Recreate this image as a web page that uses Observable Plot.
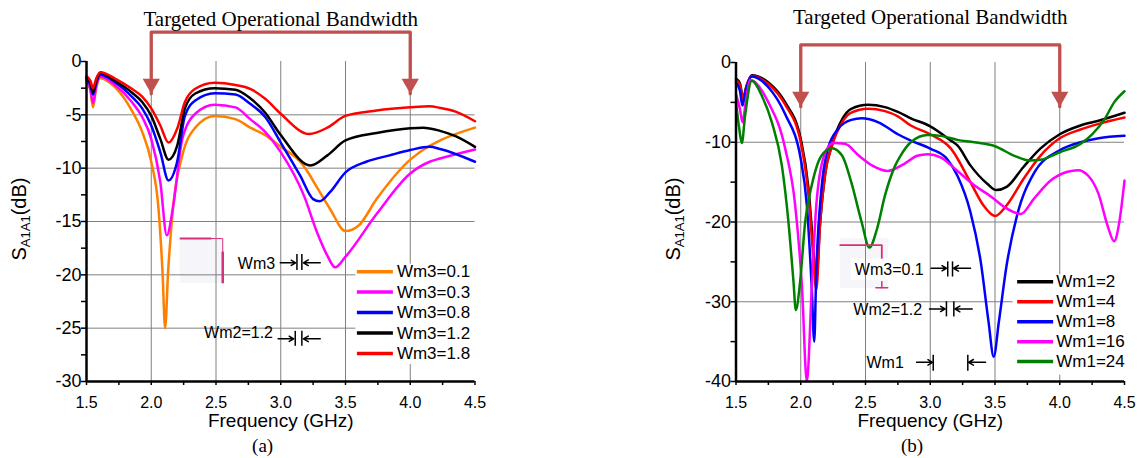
<!DOCTYPE html>
<html><head><meta charset="utf-8">
<script src="https://cdn.jsdelivr.net/npm/d3@7"></script>
<script src="https://cdn.jsdelivr.net/npm/@observablehq/plot@0.6"></script>
<style>
body{margin:0;background:#fff;}
#wrap{display:flex;width:1141px;height:458px;overflow:hidden;}
</style></head><body><div id="wrap"></div>
<script>
// ---------- DATA: panel (a), S_A1A1 (dB) vs frequency (GHz) for Wm3 ----------
const namesA = ["Wm3=0.1", "Wm3=0.3", "Wm3=0.8", "Wm3=1.2", "Wm3=1.8"];
const colorsA = ["#ff8000", "#ff00ff", "#0000ff", "#000000", "#ff0000"];
const wm3_01 = [[1.5,-1.9],[1.53,-2.7],[1.55,-4.3],[1.575,-2.5],[1.606,-1.56],[1.72,-2.4],[1.85,-4.6],[1.93,-6.6],[2.0,-9.4],[2.056,-13.8],[2.087,-19.75],[2.107,-25.0],[2.13,-19.75],[2.17,-13.5],[2.24,-8.8],[2.34,-6.2],[2.49,-5.1],[2.65,-5.4],[2.764,-6.2],[2.88,-6.9],[3.0,-8.0],[3.15,-9.4],[3.2,-10.2],[3.28,-11.8],[3.38,-13.8],[3.5,-15.9],[3.6,-15.4],[3.74,-12.9],[4.0,-9.2],[4.15,-7.9],[4.23,-7.4],[4.5,-6.2]];
const wm3_03 = [[1.5,-1.8],[1.53,-2.6],[1.55,-3.9],[1.575,-2.3],[1.606,-1.4],[1.72,-2.2],[1.85,-3.8],[1.93,-5.2],[2.0,-7.25],[2.07,-11.3],[2.12,-16.3],[2.17,-13.5],[2.24,-7.25],[2.34,-4.9],[2.49,-4.06],[2.65,-4.3],[2.764,-5.4],[2.88,-6.6],[3.0,-8.5],[3.18,-12.6],[3.28,-16.0],[3.36,-18.2],[3.42,-19.3],[3.5,-18.3],[3.74,-14.3],[4.0,-10.5],[4.15,-9.4],[4.23,-9.1],[4.5,-8.25]];
const wm3_08 = [[1.5,-1.6],[1.53,-2.2],[1.55,-3.1],[1.575,-2.0],[1.606,-1.25],[1.72,-1.94],[1.85,-3.3],[1.93,-4.4],[2.0,-6.0],[2.07,-8.5],[2.133,-11.15],[2.2,-9.4],[2.26,-5.1],[2.34,-3.65],[2.49,-2.97],[2.65,-3.1],[2.764,-3.97],[2.88,-5.2],[3.0,-7.6],[3.15,-10.7],[3.25,-12.9],[3.3,-13.1],[3.38,-12.25],[3.5,-10.4],[3.66,-9.4],[3.84,-8.8],[4.0,-8.3],[4.15,-8.0],[4.23,-8.2],[4.5,-9.4]];
const wm3_12 = [[1.5,-1.5],[1.53,-2.0],[1.55,-2.9],[1.575,-1.8],[1.606,-1.06],[1.72,-1.8],[1.85,-2.9],[1.93,-3.8],[2.0,-5.1],[2.07,-7.25],[2.133,-9.2],[2.2,-7.9],[2.26,-4.4],[2.34,-3.0],[2.49,-2.5],[2.65,-2.65],[2.764,-3.44],[2.88,-4.8],[3.0,-6.9],[3.23,-9.75],[3.36,-8.8],[3.5,-7.4],[3.74,-6.7],[4.0,-6.25],[4.1,-6.2],[4.23,-6.5],[4.35,-7.0],[4.5,-8.0]];
const wm3_18 = [[1.5,-1.4],[1.53,-1.8],[1.55,-2.5],[1.575,-1.6],[1.606,-1.0],[1.72,-1.6],[1.85,-2.56],[1.93,-3.3],[2.0,-4.4],[2.07,-6.0],[2.133,-7.6],[2.2,-6.3],[2.26,-3.8],[2.34,-2.56],[2.49,-2.0],[2.65,-2.2],[2.764,-2.56],[2.88,-3.5],[3.0,-4.9],[3.22,-6.8],[3.36,-6.2],[3.5,-5.1],[3.74,-4.6],[4.0,-4.3],[4.15,-4.2],[4.23,-4.35],[4.35,-4.7],[4.5,-5.6]];

// ---------- DATA: panel (b), S_A1A1 (dB) vs frequency (GHz) for Wm1 ----------
const namesB = ["Wm1=2", "Wm1=4", "Wm1=8", "Wm1=16", "Wm1=24"];
const colorsB = ["#000000", "#ff0000", "#0000ff", "#ff00ff", "#008000"];
const wm1_2 = [[1.5,-2.0],[1.53,-2.6],[1.555,-4.5],[1.58,-3.0],[1.622,-1.6],[1.75,-2.5],[1.88,-5.0],[2.0,-9.6],[2.06,-15.8],[2.1,-24.0],[2.118,-27.5],[2.15,-20.0],[2.19,-13.8],[2.24,-10.4],[2.32,-7.1],[2.39,-5.8],[2.52,-5.3],[2.65,-5.6],[2.75,-6.2],[2.85,-7.0],[3.0,-8.0],[3.16,-9.8],[3.21,-10.4],[3.31,-12.9],[3.44,-15.2],[3.51,-16.0],[3.59,-15.6],[3.72,-13.1],[3.85,-10.8],[4.0,-9.0],[4.16,-7.9],[4.3,-7.3],[4.5,-6.3]];
const wm1_4 = [[1.5,-2.2],[1.53,-2.8],[1.555,-4.6],[1.58,-3.1],[1.622,-1.7],[1.75,-2.7],[1.88,-5.3],[2.0,-10.0],[2.06,-16.7],[2.1,-25.0],[2.12,-28.5],[2.15,-20.0],[2.19,-13.8],[2.24,-10.5],[2.32,-7.5],[2.39,-6.3],[2.52,-5.8],[2.65,-6.1],[2.75,-6.75],[2.85,-7.9],[3.0,-9.0],[3.16,-10.8],[3.31,-15.0],[3.41,-17.9],[3.5,-19.25],[3.59,-17.9],[3.72,-14.6],[3.85,-11.7],[4.0,-9.5],[4.16,-8.4],[4.3,-7.7],[4.5,-6.9]];
const wm1_8 = [[1.5,-2.5],[1.53,-3.5],[1.55,-5.4],[1.575,-3.5],[1.622,-1.75],[1.75,-3.1],[1.88,-6.5],[2.0,-12.1],[2.047,-17.9],[2.085,-28.3],[2.104,-35.0],[2.12,-26.2],[2.16,-15.8],[2.21,-10.8],[2.29,-8.3],[2.39,-7.2],[2.47,-7.0],[2.6,-7.5],[2.75,-9.0],[2.85,-9.8],[3.0,-10.8],[3.13,-12.1],[3.21,-14.2],[3.31,-18.75],[3.39,-25.0],[3.45,-32.5],[3.49,-36.9],[3.53,-32.5],[3.59,-25.4],[3.67,-19.2],[3.8,-13.9],[4.0,-11.0],[4.16,-10.0],[4.3,-9.5],[4.5,-9.2]];
const wm1_16 = [[1.5,-4.0],[1.53,-5.8],[1.55,-7.5],[1.575,-5.0],[1.61,-2.2],[1.75,-5.0],[1.88,-10.8],[1.957,-17.9],[2.01,-28.3],[2.047,-40.0],[2.085,-28.3],[2.12,-17.9],[2.18,-11.7],[2.25,-10.1],[2.34,-10.2],[2.45,-11.7],[2.55,-12.9],[2.67,-13.6],[2.8,-12.7],[2.9,-11.7],[2.98,-11.5],[3.08,-11.9],[3.21,-13.6],[3.34,-15.4],[3.46,-16.7],[3.59,-18.3],[3.7,-19.0],[3.8,-17.1],[3.93,-14.8],[4.06,-13.7],[4.14,-13.5],[4.22,-14.2],[4.3,-16.5],[4.37,-20.5],[4.42,-22.4],[4.46,-20.0],[4.5,-14.8]];
const wm1_24 = [[1.5,-5.0],[1.525,-8.3],[1.545,-10.1],[1.57,-6.7],[1.622,-2.3],[1.7,-4.2],[1.777,-7.5],[1.854,-12.9],[1.905,-20.0],[1.944,-27.5],[1.962,-31.05],[1.995,-27.5],[2.034,-20.0],[2.085,-15.4],[2.16,-11.7],[2.24,-10.75],[2.32,-11.7],[2.39,-15.0],[2.47,-20.0],[2.53,-23.2],[2.59,-20.8],[2.65,-16.7],[2.73,-12.9],[2.77,-11.7],[2.85,-10.0],[2.98,-9.1],[3.08,-9.2],[3.21,-9.7],[3.34,-10.0],[3.5,-10.5],[3.65,-11.7],[3.77,-12.3],[3.85,-12.2],[4.0,-11.25],[4.16,-10.2],[4.25,-9.0],[4.35,-7.0],[4.42,-5.0],[4.5,-3.6]];

// ---------- TICKS ----------
const xMajor = [1.5, 2.0, 2.5, 3.0, 3.5, 4.0, 4.5];
const xMinor = [1.75, 2.25, 2.75, 3.25, 3.75, 4.25];
const xGrid = [2.0, 2.5, 3.0, 3.5, 4.0];
const yMajorA = [0, -5, -10, -15, -20, -25, -30];
const yMinorA = [-2.5, -7.5, -12.5, -17.5, -22.5, -27.5];
const yGridA = [-5, -10, -15, -20, -25];
const yMajorB = [0, -10, -20, -30, -40];
const yMinorB = [-5, -15, -25, -35];
const yGridB = [-10, -20, -30];

const titleText = "Targeted Operational Bandwidth";
const bandEdges = [2.0, 4.0];

// ---------- helpers ----------
const SANS = "Liberation Sans, Arial, sans-serif";
const SERIF = "Liberation Serif, Times New Roman, serif";
const BR = "#c0504d";
const PINK = "#d63078";

function toTable(series, names) {
  return series.flatMap((s, i) => s.map(([f, v]) => ({name: names[i], f, v})));
}

function commonMarks(o) {
  return [
    Plot.gridX(xGrid, {stroke: "#808080", strokeOpacity: 1, strokeWidth: 1}),
    Plot.gridY(o.yGrid, {stroke: "#808080", strokeOpacity: 1, strokeWidth: 1}),
    // legend background box
    Plot.rect([0], {x1: () => o.legBox[0], x2: () => 4.5, y1: () => o.legBox[1], y2: () => o.legBox[2], fill: "white"}),
    Plot.axisX(xMajor, {tickSize: 4, tickPadding: 11, tickFormat: d => d.toFixed(1), fontSize: 16, fontFamily: SANS, strokeWidth: 1.5, label: null}),
    Plot.axisX(xMinor, {tickSize: 4, tickFormat: () => "", strokeWidth: 1.5, label: null}),
    Plot.axisY(o.yMajor, {tickSize: 5, tickPadding: 0, tickFormat: d => String(d), fontSize: 18, fontFamily: SANS, strokeWidth: 1.5, label: null}),
    Plot.axisY(o.yMinor, {tickSize: 5, tickFormat: () => "", strokeWidth: 1.5, label: null}),
    Plot.line(o.table, {x: "f", y: "v", z: "name", stroke: "name", strokeWidth: 2.5, curve: "monotone-x"}),
    Plot.ruleX([1.5], {strokeWidth: 2.5, stroke: "black"}),
    Plot.ruleY([o.yMin], {strokeWidth: 2.5, stroke: "black"}),
    // bandwidth bracket
    Plot.line([[bandEdges[0], o.tip], [bandEdges[0], o.top], [bandEdges[1], o.top], [bandEdges[1], o.tip]],
      {x: d => d[0], y: d => d[1], stroke: BR, strokeWidth: 3.3, curve: "linear"}),
    Plot.dot(bandEdges, {x: d => d, y: () => o.tip, symbol: "triangle", rotate: 180, r: 6.4, fill: BR, stroke: null, dy: -10}),
    Plot.text([titleText], {x: () => 3, frameAnchor: "top", lineAnchor: "middle", dy: o.titleDy, fontFamily: SERIF, fontSize: 21, fill: "black"}),
    // x label and caption
    Plot.text(["Frequency (GHz)"], {x: () => 3, frameAnchor: "bottom", lineAnchor: "middle", dy: 39, fontFamily: SANS, fontSize: 19, fill: "black"}),
    Plot.text([o.caption], {x: () => 2.86, frameAnchor: "bottom", lineAnchor: "middle", dy: 64, fontFamily: SERIF, fontSize: 19, fill: "black"}),
    // legend
    Plot.link(o.names, {x1: () => o.legX1, x2: () => o.legX2, y1: (d, i) => o.legTop + i * o.legStep, y2: (d, i) => o.legTop + i * o.legStep, stroke: d => d, strokeWidth: 3.5}),
    Plot.text(o.names, {x: () => o.legTx, y: (d, i) => o.legTop + i * o.legStep, text: d => d, textAnchor: "start", fontFamily: SANS, fontSize: 17, fill: "black"})
  ];
}

function widthMarks(labels, arrows, bars) {
  return [
    Plot.text(labels, {x: d => d[0], y: d => d[1], text: d => d[2], textAnchor: "end", fontFamily: SANS, fontSize: 16, fill: "black"}),
    Plot.arrow(arrows, {x1: d => d[0], x2: d => d[1], y1: d => d[2], y2: d => d[2], stroke: "black", strokeWidth: 1.5, headLength: 8}),
    Plot.ruleX(bars, {x: d => d[0], y1: d => d[1], y2: d => d[2], stroke: "black", strokeWidth: 1.5})
  ];
}

function addYLabel(svg, x, y) {
  const t = d3.select(svg).append("text")
    .attr("transform", `translate(${x},${y}) rotate(-90)`)
    .attr("text-anchor", "middle")
    .attr("font-family", SANS).attr("font-size", 20).attr("fill", "black");
  t.append("tspan").text("S");
  t.append("tspan").attr("font-size", 13).attr("dy", 4).text("A1A1");
  t.append("tspan").attr("dy", -4).text("(dB)");
}

// ---------- panel (a) ----------
const chartA = Plot.plot({
  width: 570, height: 458,
  marginTop: 61, marginBottom: 77, marginLeft: 86, marginRight: 95.5,
  x: {domain: [1.5, 4.5]},
  y: {domain: [-30, 0]},
  color: {domain: namesA, range: colorsA},
  style: {fontFamily: SANS, background: "white", color: "black", overflow: "visible"},
  marks: [
    Plot.rect([0], {x1: () => 2.224, x2: () => 2.548, y1: () => -16.6, y2: () => -20.8, fill: "#f5f5fa"}),
    ...commonMarks({table: toTable([wm3_01, wm3_03, wm3_08, wm3_12, wm3_18], namesA), names: namesA,
      yGrid: yGridA, yMajor: yMajorA, yMinor: yMinorA, yMin: -30, tip: -3.03, top: 2.75, titleDy: -42, caption: "(a)",
      legX1: 3.588, legX2: 3.866, legTx: 3.897, legTop: -19.7, legStep: -1.92, legBox: [3.58, -19.0, -28.4]}),
    Plot.line([[2.226, -16.6], [2.46, -16.6]], {x: d => d[0], y: d => d[1], stroke: PINK, strokeWidth: 2}),
    Plot.line([[2.46, -16.6], [2.552, -16.6], [2.552, -17.9]], {x: d => d[0], y: d => d[1], stroke: PINK, strokeWidth: 1}),
    Plot.line([[2.552, -17.9], [2.552, -20.7]], {x: d => d[0], y: d => d[1], stroke: PINK, strokeWidth: 2.5}),
    ...widthMarks(
      [[2.957, -19.0, "Wm3"], [2.94, -25.4, "Wm2=1.2"]],
      [[2.996, 3.115, -18.87], [3.305, 3.175, -18.87], [2.98, 3.1, -26.0], [3.305, 3.175, -26.0]],
      [[3.125, -18.1, -19.6], [3.163, -18.1, -19.6], [3.112, -25.3, -26.7], [3.163, -25.3, -26.7]])
  ]
});
addYLabel(chartA, 26, 219);

// ---------- panel (b) ----------
const chartB = Plot.plot({
  width: 571, height: 458,
  marginTop: 62, marginBottom: 77, marginLeft: 165.5, marginRight: 17,
  x: {domain: [1.5, 4.5]},
  y: {domain: [-40, 0]},
  color: {domain: namesB, range: colorsB},
  style: {fontFamily: SANS, background: "white", color: "black", overflow: "visible"},
  marks: [
    Plot.rect([0], {x1: () => 2.305, x2: () => 2.678, y1: () => -22.1, y2: () => -28.3, fill: "#f5f5fa"}),
    Plot.rect([0], {x1: () => 2.39, x2: () => 2.678, y1: () => -24.6, y2: () => -27.3, fill: "white"}),
    ...commonMarks({table: toTable([wm1_2, wm1_4, wm1_8, wm1_16, wm1_24], namesB), names: namesB,
      yGrid: yGridB, yMajor: yMajorB, yMinor: yMinorB, yMin: -40, tip: -5.54, top: 2.2, titleDy: -45, caption: "(b)",
      legX1: 3.671, legX2: 3.949, legTx: 3.973, legTop: -27.5, legStep: -2.5, legBox: [3.64, -26.6, -39.2]}),
    Plot.line([[2.305, -22.9], [2.626, -22.9], [2.626, -24.5]], {x: d => d[0], y: d => d[1], stroke: PINK, strokeWidth: 1.8}),
    Plot.line([[2.626, -27.5], [2.626, -28.25]], {x: d => d[0], y: d => d[1], stroke: PINK, strokeWidth: 1.5}),
    Plot.line([[2.58, -28.25], [2.672, -28.25]], {x: d => d[0], y: d => d[1], stroke: PINK, strokeWidth: 1.5}),
    ...widthMarks(
      [[2.95, -26.0, "Wm3=0.1"], [2.938, -31.0, "Wm2=1.2"], [2.796, -37.7, "Wm1"]],
      [[3.007, 3.125, -25.8], [3.311, 3.18, -25.8], [2.994, 3.115, -30.9], [3.324, 3.19, -30.9], [2.894, 3.018, -37.6], [3.427, 3.295, -37.6]],
      [[3.135, -25.0, -26.9], [3.172, -25.0, -26.9], [3.125, -30.0, -31.9], [3.182, -30.0, -31.9], [3.023, -36.7, -38.7], [3.29, -36.7, -38.7]])
  ]
});
addYLabel(chartB, 110, 219);

document.getElementById("wrap").append(chartA, chartB);
</script></body></html>
